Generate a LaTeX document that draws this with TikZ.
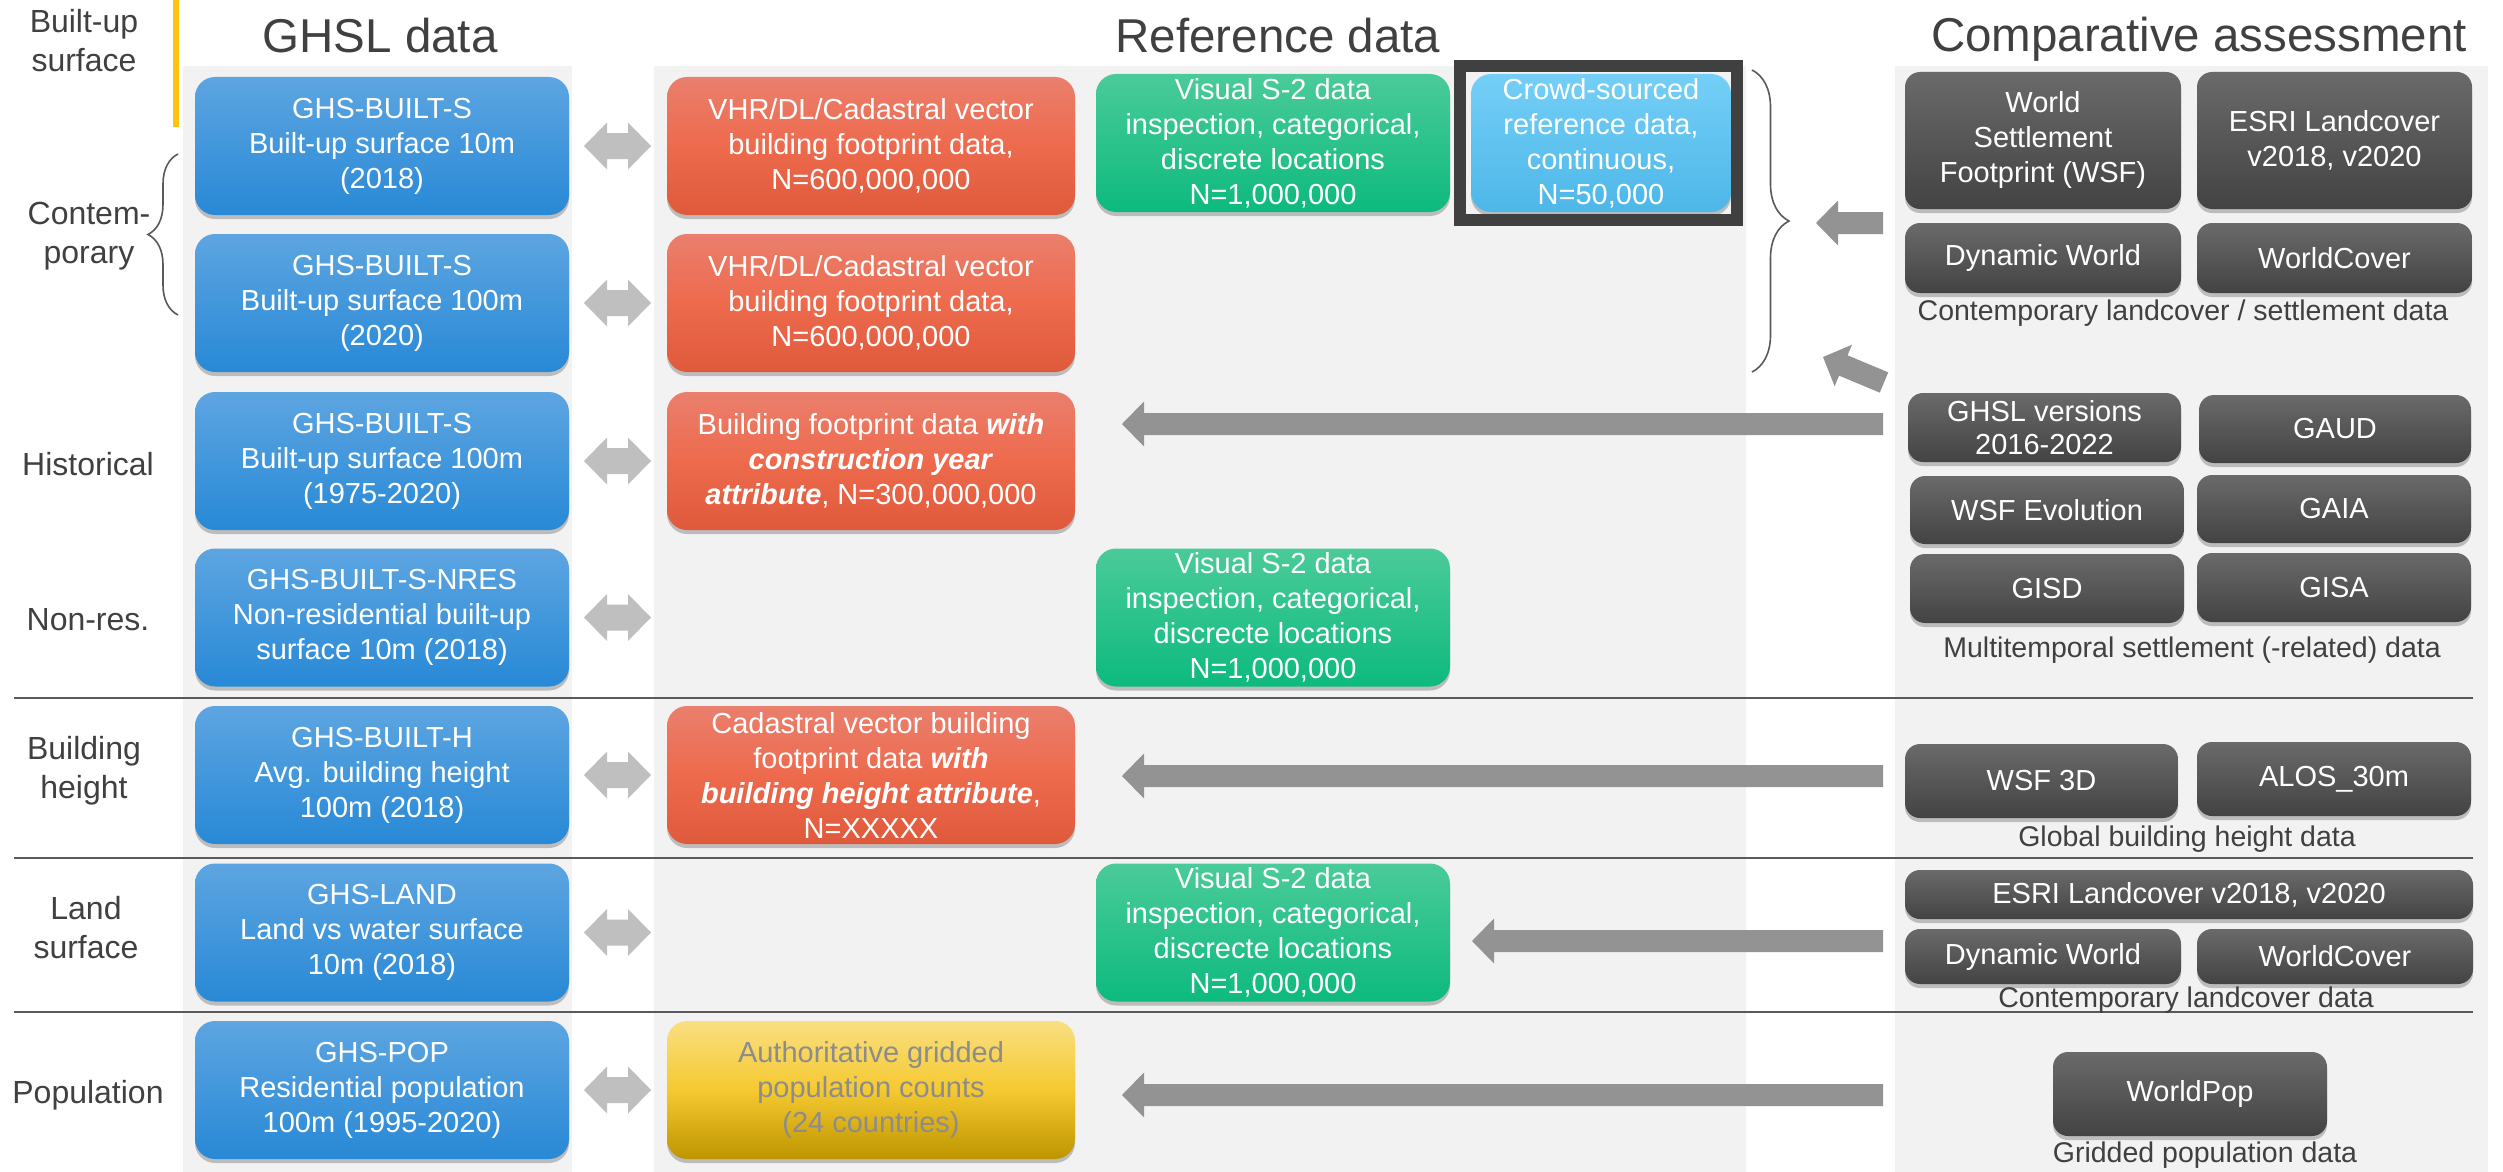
\documentclass[tikz,border=0pt]{standalone}
\usepackage{fontspec}
\setmainfont{Liberation Sans}
\usetikzlibrary{shadows,decorations.pathreplacing,calc}
\definecolor{txt}{HTML}{404040}
\definecolor{panelbg}{HTML}{F2F2F2}
\definecolor{sepline}{HTML}{595959}
\definecolor{goldline}{HTML}{FFC20E}
\definecolor{bluetop}{HTML}{5DA5E1}
\definecolor{bluebot}{HTML}{2889D6}
\definecolor{redtop}{HTML}{EA7F6D}
\definecolor{redmid}{HTML}{EE6A4D}
\definecolor{redbot}{HTML}{DF5A3B}
\definecolor{greentop}{HTML}{4ACB99}
\definecolor{greenbot}{HTML}{0DBA7E}
\definecolor{cyantop}{HTML}{74CFF7}
\definecolor{cyanbot}{HTML}{4DB7E8}
\definecolor{darktop}{HTML}{6A6A6A}
\definecolor{darkbot}{HTML}{434343}
\definecolor{ylwtop}{HTML}{FADF82}
\definecolor{ylwmid}{HTML}{F5C930}
\definecolor{ylwbot}{HTML}{BE9500}
\definecolor{ylwtxt}{HTML}{8C8C8C}
\definecolor{arrowgray}{HTML}{939393}
\definecolor{dblgray}{HTML}{BFBFBF}
\definecolor{framegray}{HTML}{404040}

\newcommand\fatarrow[2]{%
  \coordinate (fahd) at ($(#2)!22pt!(#1)$);
  \fill[arrowgray] (#2) -- ($(fahd)!22.5pt!90:(#2)$) -- ($(fahd)!11pt!90:(#2)$)
    -- ($(#1)!11pt!90:(#2)$) -- ($(#1)!11pt!-90:(#2)$)
    -- ($(fahd)!11pt!-90:(#2)$) -- ($(fahd)!22.5pt!-90:(#2)$) -- cycle;}
\newcommand\dblarrow[1]{%
  \coordinate (dal) at ([xshift=15pt]#1.east);
  \fill[dblgray] (dal) -- ++(23,-23.5) -- ++(0,10.5) -- ++(21,0) -- ++(0,-10.5)
    -- ++(23,23.5) -- ++(-23,23.5) -- ++(0,-10.5) -- ++(-21,0) -- ++(0,10.5) -- cycle;}

\begin{document}
\begin{tikzpicture}[x=1pt,y=-1pt,
  every node/.style={inner sep=0pt, outer sep=0pt},
  shad/.style={drop shadow={shadow xshift=0pt, shadow yshift=-4pt, opacity=0.22, fill=black}},
  box/.style={rounded corners=20pt, align=center, text=white, font=\fontsize{29}{35}\selectfont, shad},
  bluebox/.style={box, top color=bluetop, bottom color=bluebot, minimum width=374pt, minimum height=138pt},
  redbox/.style={box, top color=redtop, bottom color=redbot, middle color=redmid, minimum width=408pt, minimum height=138pt},
  ylwbox/.style={box, top color=ylwtop, bottom color=ylwbot, middle color=ylwmid, text=ylwtxt, minimum width=408pt, minimum height=138pt},
  greenbox/.style={box, top color=greentop, bottom color=greenbot, minimum width=354pt, minimum height=138pt},
  cyanbox/.style={box, top color=cyantop, bottom color=cyanbot, minimum width=260pt, minimum height=138pt},
  darkbox/.style={rounded corners=15pt, align=center, text=white, font=\fontsize{29}{35}\selectfont, top color=darktop, bottom color=darkbot, shad},
  title/.style={text=txt, font=\fontsize{47.5}{57}\selectfont, anchor=base},
  rowlabel/.style={text=txt, font=\fontsize{32}{39}\selectfont, align=center},
  caption/.style={text=txt, font=\fontsize{28.5}{34}\selectfont},
  sep/.style={draw=sepline, line width=2.5pt},
  bracestyle/.style={draw=sepline, line width=1.6pt, decorate}
]
\useasboundingbox (0,0) rectangle (2503,1172);

% background panels
\fill[panelbg] (183,66) rectangle (572,1172);
\fill[panelbg] (654,66) rectangle (1746,1172);
\fill[panelbg] (1895,66) rectangle (2488,1172);

% gold line
\fill[goldline] (173,0) rectangle (179,127);

% titles
\node[title] (t-ghsl) at (380,53) {GHSL data};
\node[title] (t-ref) at (1278,53) {Reference data};
\node[title] (t-comp) at (2199,52) {Comparative assessment};

% separators
\draw[sep] (14,698) -- (2473,698);
\draw[sep] (14,858) -- (2473,858);
\draw[sep] (14,1012) -- (2473,1012);

% row labels
\node[rowlabel] (l-bu) at (84,41) {Built-up\\surface};
\node[rowlabel] (l-con) at (89,236) {Contem-\\porary};
\node[rowlabel, anchor=base] (l-hist) at (88,475) {Historical};
\node[rowlabel, anchor=base] (l-nres) at (88,630) {Non-res.};
\node[rowlabel] (l-bh) at (84,771) {Building\\height};
\node[rowlabel] (l-land) at (86,928) {Land\\surface};
\node[rowlabel, anchor=base] (l-pop) at (88,1103) {Population};

% braces
\draw[bracestyle, decoration={brace, amplitude=30pt}] (178,315) -- (178,154);
\draw[bracestyle, decoration={brace, amplitude=37pt}] (1752,70) -- (1752,372);

% GHSL boxes
\node[bluebox] (b1) at (382,146) {GHS-BUILT-S\\Built-up surface 10m\\(2018)};
\node[bluebox] (b2) at (382,303) {GHS-BUILT-S\\Built-up surface 100m\\(2020)};
\node[bluebox] (b3) at (382,461) {GHS-BUILT-S\\Built-up surface 100m\\(1975-2020)};
\node[bluebox] (b4) at (382,617.5) {GHS-BUILT-S-NRES\\Non-residential built-up\\surface 10m (2018)};
\node[bluebox] (b5) at (382,775) {GHS-BUILT-H\\Avg. building height\\100m (2018)};
\node[bluebox] (b6) at (382,932.5) {GHS-LAND\\Land vs water surface\\10m (2018)};
\node[bluebox] (b7) at (382,1090) {GHS-POP\\Residential population\\100m (1995-2020)};

% double arrows
\dblarrow{b1}
\dblarrow{b2}
\dblarrow{b3}
\dblarrow{b4}
\dblarrow{b5}
\dblarrow{b6}
\dblarrow{b7}

% reference boxes
\node[redbox] (r1) at (871,146) {VHR/DL/Cadastral vector\\building footprint data,\\N=600,000,000};
\node[redbox] (r2) at (871,303) {VHR/DL/Cadastral vector\\building footprint data,\\N=600,000,000};
\node[redbox] (r3) at (871,461) {Building footprint data \textbf{\textit{with}}\\\textbf{\textit{construction year}}\\\textbf{\textit{attribute}}, N=300,000,000};
\node[redbox] (r5) at (871,775) {Cadastral vector building\\footprint data \textbf{\textit{with}}\\\textbf{\textit{building height attribute}},\\N=XXXXX};
\node[ylwbox] (y7) at (871,1090) {Authoritative gridded\\population counts\\(24 countries)};
\node[greenbox] (g1) at (1273,143) {Visual S-2 data\\inspection, categorical,\\discrete locations\\N=1,000,000};
\node[greenbox] (g4) at (1273,617.5) {Visual S-2 data\\inspection, categorical,\\discrecte locations\\N=1,000,000};
\node[greenbox] (g6) at (1273,932.5) {Visual S-2 data\\inspection, categorical,\\discrecte locations\\N=1,000,000};
\node[cyanbox] (c1) at (1601,143) {Crowd-sourced\\reference data,\\continuous,\\N=50,000};
\node[draw=framegray, line width=12pt, minimum width=277pt, minimum height=154pt] (frame) at (1598.5,143) {};

% comparative boxes
\node[darkbox, minimum width=276pt, minimum height=137pt] (wsf) at (2043,140.5) {World\\Settlement\\Footprint (WSF)};
\node[darkbox, minimum width=275pt, minimum height=137pt] (esri) at (2334.5,140.5) {ESRI Landcover\\v2018, v2020};
\node[darkbox, minimum width=276pt, minimum height=70pt] (dynw) at (2043,258) {Dynamic World};
\node[darkbox, minimum width=275pt, minimum height=70pt] (wc) at (2334.5,258) {WorldCover};
\node[caption] (cap1) at (2183,313) {Contemporary landcover / settlement data};

\node[darkbox, minimum width=273pt, minimum height=69pt, font=\fontsize{29}{33}\selectfont] (ghslv) at (2044.5,427.5) {GHSL versions\\2016-2022};
\node[darkbox, minimum width=272pt, minimum height=68pt] (gaud) at (2335,429) {GAUD};
\node[darkbox, minimum width=274pt, minimum height=68pt] (wsfevo) at (2047,510) {WSF Evolution};
\node[darkbox, minimum width=274pt, minimum height=68pt] (gaia) at (2334,509) {GAIA};
\node[darkbox, minimum width=274pt, minimum height=69pt] (gisd) at (2047,588.5) {GISD};
\node[darkbox, minimum width=274pt, minimum height=69pt] (gisa) at (2334,587.5) {GISA};
\node[caption] (cap2) at (2192,650) {Multitemporal settlement (-related) data};

\node[darkbox, minimum width=273pt, minimum height=74pt] (wsf3d) at (2041.5,781) {WSF 3D};
\node[darkbox, minimum width=274pt, minimum height=74pt] (alos) at (2334,779) {ALOS\_30m};
\node[caption] (cap3) at (2187,839) {Global building height data};

\node[darkbox, minimum width=568pt, minimum height=49pt] (esri2) at (2189,894.5) {ESRI Landcover v2018, v2020};
\node[darkbox, minimum width=276pt, minimum height=55pt] (dynw2) at (2043,956.5) {Dynamic World};
\node[darkbox, minimum width=276pt, minimum height=55pt] (wc2) at (2335,956.5) {WorldCover};
\node[caption] (cap4) at (2186,1000) {Contemporary landcover data};

\node[darkbox, minimum width=274pt, minimum height=84pt] (wpop) at (2190,1094) {WorldPop};
\node[caption] (cap5) at (2205,1155) {Gridded population data};

% big gray arrows
\coordinate (ta1) at (1883,223);   \coordinate (ha1) at (1816,223);
\coordinate (ta2) at (1884,382.5); \coordinate (ha2) at (1823,357);
\coordinate (ta3) at (1883,424);   \coordinate (ha3) at (1122,424);
\coordinate (ta4) at (1883,776);   \coordinate (ha4) at (1122,776);
\coordinate (ta5) at (1883,941);   \coordinate (ha5) at (1472,941);
\coordinate (ta6) at (1883,1095);  \coordinate (ha6) at (1122,1095);
\fatarrow{ta1}{ha1}
\fatarrow{ta2}{ha2}
\fatarrow{ta3}{ha3}
\fatarrow{ta4}{ha4}
\fatarrow{ta5}{ha5}
\fatarrow{ta6}{ha6}
\end{tikzpicture}
\end{document}
